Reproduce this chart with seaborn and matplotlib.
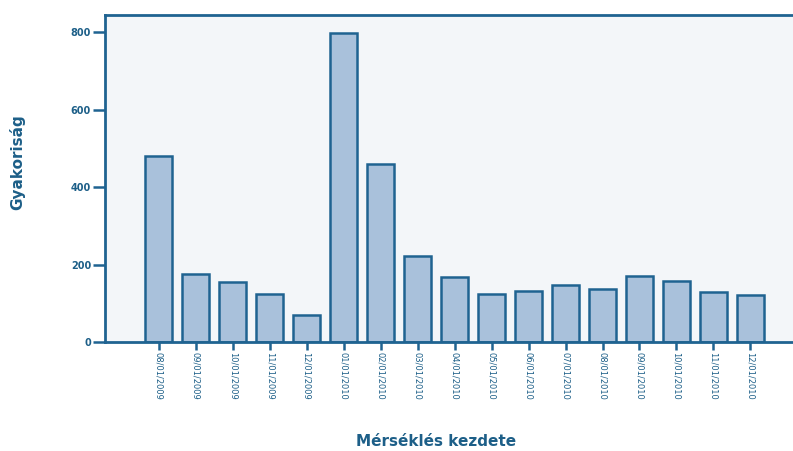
import matplotlib
matplotlib.use("Agg")
import matplotlib.pyplot as plt
import seaborn as sns
import pandas as pd

dates = ["08/01/2009", "09/01/2009", "10/01/2009", "11/01/2009", "12/01/2009",
         "01/01/2010", "02/01/2010", "03/01/2010", "04/01/2010", "05/01/2010",
         "06/01/2010", "07/01/2010", "08/01/2010", "09/01/2010", "10/01/2010",
         "11/01/2010", "12/01/2010"]
counts = [480, 175, 155, 124, 70, 798, 459, 222, 168, 124, 132, 147, 137, 170, 157, 129, 121]
y_ticks = [0, 200, 400, 600, 800]

sns.set_style("white")
plt.rcParams['font.family'] = ['DejaVu Sans']

TXT = "#1d5f88"
EDGE = "#1f6391"
FILL = "#a9c1db"
BG = "#f3f6f9"

fig = plt.figure(figsize=(7.93, 4.51), dpi=100)
ax = fig.add_axes([105/793, 109/451, 1 - 105/793, (342-15)/451])
df = pd.DataFrame({"date": dates, "count": counts})
sns.barplot(data=df, x="date", y="count", color=FILL, edgecolor=EDGE,
            linewidth=1.8, width=0.74, saturation=1, ax=ax)
ax.set_facecolor(BG)
ax.set_xlim(-1.45, 17.15)
ax.set_ylim(0, 844)
ax.set_yticks(y_ticks)
ax.set_yticklabels([str(v) for v in y_ticks], fontsize=7, fontweight="bold", color=TXT)
ax.set_xticks(range(len(dates)))
ax.set_xticklabels(dates, rotation=-90, fontsize=6, color=TXT)
ax.tick_params(axis="y", direction="out", length=9, width=1.8, color=EDGE, pad=1, left=True)
ax.tick_params(axis="x", direction="out", length=6, width=1.8, color=EDGE, pad=1, bottom=True)
for s in ["left", "top", "bottom"]:
    ax.spines[s].set_visible(True)
    ax.spines[s].set_color(EDGE)
    ax.spines[s].set_linewidth(2)
ax.spines["right"].set_visible(False)
ax.set_xlabel("")
ax.set_ylabel("")
fig.text(17/793, 1 - 162/451, "Gyakoriság", rotation=90, ha="center", va="center",
         fontsize=11, fontweight="bold", color=TXT)
fig.text(436/793, 1 - 442/451, "Mérséklés kezdete", ha="center", va="center",
         fontsize=11, fontweight="bold", color=TXT)
fig.savefig("out.png", dpi=100)
